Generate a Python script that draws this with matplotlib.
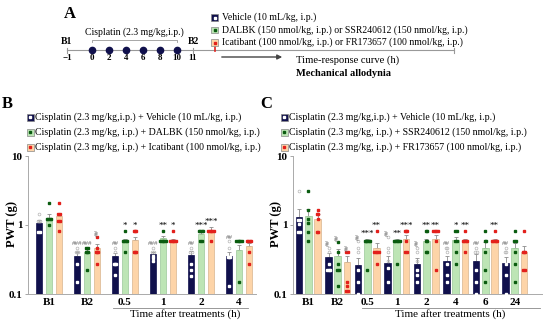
import numpy as np
import matplotlib
matplotlib.use('Agg')
import matplotlib.pyplot as plt
from matplotlib.patches import Rectangle, FancyArrowPatch

plt.rcParams['font.family'] = ['Liberation Serif', 'DejaVu Serif']

# ---------------- data ----------------
B_labels = ['B1', 'B2', '0.5', '1', '2', '4']
B_vehicle = [1.07, 0.36, 0.35, 0.38, 0.37, 0.35]
B_dalbk = [1.27, 0.40, 0.575, 0.64, 0.73, 0.44]
B_icatibant = [1.33, 0.47, 0.60, 0.58, 0.82, 0.49]
B_vehicle_sem = [0.10, 0.04, 0.04, 0.03, 0.05, 0.06]
B_dalbk_sem = [0.17, 0.05, 0.05, 0.05, 0.05, 0.07]
B_icatibant_sem = [0.17, 0.06, 0.08, 0.04, 0.10, 0.05]
B_vehicle_pts = [[1.42, 1.16, 1.16, 1.16, 0.78, 0.78], [0.47, 0.40, 0.40, 0.40, 0.27, 0.15],
                 [0.47, 0.40, 0.27, 0.27, 0.27, 0.19], [0.47, 0.40, 0.40, 0.35, 0.33, 0.30],
                 [0.47, 0.40, 0.40, 0.27, 0.22, 0.18], [0.58, 0.47, 0.34, 0.34, 0.34, 0.13]]
B_dalbk_pts = [[2.08, 1.22, 1.22, 1.22, 1.22, 1.0], [0.47, 0.47, 0.40, 0.40, 0.40, 0.22],
               [0.81, 0.58, 0.58, 0.58, 0.58, 0.40], [0.81, 0.58, 0.58, 0.58, 0.58, 0.58],
               [0.81, 0.81, 0.81, 0.81, 0.58, 0.58], [0.58, 0.58, 0.58, 0.58, 0.58, 0.15]]
B_icatibant_pts = [[2.08, 1.42, 1.42, 1.16, 1.16, 0.81], [0.67, 0.47, 0.40, 0.40, 0.40, 0.27],
                   [0.81, 0.81, 0.81, 0.40, 0.40, 0.40], [0.81, 0.58, 0.58, 0.58, 0.58, 0.58],
                   [0.81, 0.81, 0.81, 0.81, 0.81, 0.58], [0.58, 0.58, 0.58, 0.58, 0.40, 0.27]]
B_vehicle_sig = ['', '###', '##', '###', '##', '##']
B_dalbk_sig = ['', '###', '*', '**', '***', '']
B_icatibant_sig = ['', '##v', '*', '*', '***', '']

C_labels = ['B1', 'B2', '0.5', '1', '2', '4', '6', '24']
C_vehicle = [1.30, 0.34, 0.26, 0.28, 0.27, 0.30, 0.30, 0.28]
C_ssr = [1.35, 0.36, 0.58, 0.58, 0.58, 0.60, 0.46, 0.46]
C_fr = [1.22, 0.29, 0.47, 0.62, 0.62, 0.58, 0.58, 0.40]
C_vehicle_sem = [0.38, 0.05, 0.07, 0.08, 0.06, 0.05, 0.08, 0.06]
C_ssr_sem = [0.35, 0.09, 0.05, 0.05, 0.05, 0.08, 0.10, 0.09]
C_fr_sem = [0.20, 0.07, 0.07, 0.10, 0.10, 0.05, 0.05, 0.10]
C_vehicle_pts = [[3.08, 1.20, 1.20, 1.05, 0.80, 0.80], [0.47, 0.40, 0.27, 0.22, 0.22, 0.22],
                 [0.58, 0.47, 0.40, 0.22, 0.15, 0.10], [0.67, 0.47, 0.40, 0.30, 0.24, 0.15],
                 [0.47, 0.40, 0.30, 0.22, 0.19, 0.15], [0.47, 0.47, 0.40, 0.27, 0.19, 0.15],
                 [0.47, 0.40, 0.40, 0.22, 0.15, 0.10], [0.47, 0.40, 0.40, 0.27, 0.19, 0.10]]
C_ssr_pts = [[3.08, 1.66, 1.22, 1.06, 0.78, 0.58], [0.56, 0.40, 0.27, 0.22, 0.22, 0.13],
             [0.58, 0.58, 0.58, 0.58, 0.58, 0.22], [0.58, 0.58, 0.58, 0.58, 0.58, 0.27],
             [0.81, 0.81, 0.58, 0.58, 0.40, 0.40], [0.81, 0.81, 0.58, 0.58, 0.40, 0.27],
             [0.81, 0.58, 0.58, 0.40, 0.22, 0.15], [0.81, 0.58, 0.58, 0.40, 0.27, 0.15]]
C_fr_pts = [[1.66, 1.42, 1.42, 1.22, 0.78, 0.78], [0.40, 0.40, 0.15, 0.13, 0.11, 0.11],
            [0.81, 0.40, 0.40, 0.40, 0.40, 0.27], [0.81, 0.81, 0.81, 0.58, 0.40, 0.40],
            [0.81, 0.81, 0.81, 0.81, 0.58, 0.22], [0.81, 0.58, 0.58, 0.58, 0.58, 0.40],
            [0.81, 0.58, 0.58, 0.58, 0.58, 0.58], [0.81, 0.40, 0.40, 0.40, 0.22, 0.22]]
C_vehicle_sig = ['', '##v', '##v', '##v', '##v', '##', '##', '##']
C_ssr_sig = ['', '##v', '***', '**', '**', '*', '', '']
C_fr_sig = ['', '##v', '**', '***', '**', '**', '**', '']

B_legend = ['Cisplatin (2.3 mg/kg,i.p.) + Vehicle (10 mL/kg, i.p.)',
            'Cisplatin (2.3 mg/kg, i.p.) + DALBK (150 nmol/kg, i.p.)',
            'Cisplatin (2.3 mg/kg, i.p.) + Icatibant (100 nmol/kg, i.p.)']
C_legend = ['Cisplatin (2.3 mg/kg,i.p.) + Vehicle (10 mL/kg, i.p.)',
            'Cisplatin (2.3 mg/kg, i.p.) + SSR240612 (150 nmol/kg, i.p.)',
            'Cisplatin (2.3 mg/kg, i.p.) + FR173657 (100 nmol/kg, i.p.)']
A_legend = ['Vehicle (10 mL/kg, i.p.)',
            'DALBK (150 nmol/kg, i.p.) or SSR240612 (150 nmol/kg, i.p.)',
            'Icatibant (100 nmol/kg, i.p.) or FR173657 (100 nmol/kg, i.p.)']
A_days = [-1, 0, 2, 4, 6, 8, 10, 11]
A_cisplatin_days = [0, 2, 4, 6, 8, 10]

# ---------------- style ----------------
FILL = ['#10104c', '#bde5b5', '#fdd4a8']
EDGE = ['#10104c', '#9cc89a', '#d9b48f']
DOT = ['white', '#0a5c10', '#e3201b']
W, H = 550, 323
fig = plt.figure(figsize=(5.5, 3.23), dpi=100)
ov = fig.add_axes([0, 0, 1, 1], zorder=10)
ov.set_xlim(0, W); ov.set_ylim(H, 0); ov.axis('off'); ov.patch.set_alpha(0)


def panel(left_px, right_px, spacing_px, first_px, labels, means, sems, pts, sigs):
    ax = fig.add_axes([left_px / W, 1 - 294 / H, (right_px - left_px) / W, 138 / H])
    n = len(labels)
    width = 6.7 / spacing_px
    offset = 10.0 / spacing_px if spacing_px > 33 else 9.2 / spacing_px
    dxu = 1.4 / spacing_px
    for i in range(3):
        x = np.arange(n) + (i - 1) * offset
        m = np.array(means[i]); s = np.array(sems[i])
        ax.bar(x, m, width, color=FILL[i], edgecolor=EDGE[i], linewidth=0.5, zorder=2)
        ax.errorbar(x, m, yerr=[np.zeros(n), s], fmt='none', ecolor='#8c8c8c',
                    elinewidth=0.6, capsize=1.4, capthick=0.6, zorder=1)
        for j in range(n):
            vals = pts[i][j]
            uniq = sorted(set(vals))
            for u in uniq:
                k = vals.count(u)
                xs = x[j] + (np.arange(k) - (k - 1) / 2) * dxu
                if i == 0:
                    if u <= m[j]:
                        ax.plot(xs, [u] * k, 's', ms=1.5, mfc='white', mec='white', zorder=4)
                    else:
                        ax.plot(xs, [u] * k, 'o', ms=2.0, mfc='none', mec='#b4b4b4', mew=0.5, zorder=4)
                else:
                    ax.plot(xs, [u] * k, 's', ms=1.8, mfc=DOT[i], mec=DOT[i], zorder=4)
            sg = sigs[i][j]
            if sg:
                top = max(m[j] + s[j], max(vals))
                vert = sg.endswith('v')
                txt = sg.rstrip('v')
                col = '#666666' if '#' in txt else 'black'
                ax.annotate(txt, (x[j], top), xytext=(0, 1.0), textcoords='offset points',
                            ha='center', va='bottom', fontsize=5 if '#' in txt else 6.5,
                            color=col, rotation=90 if vert else 0, zorder=5)
    ax.set_yscale('log')
    ax.set_ylim(0.1, 10)
    ax.set_xlim((left_px - first_px) / spacing_px, (right_px - first_px) / spacing_px)
    ax.set_yticks([0.1, 1, 10]); ax.set_yticklabels(['0.1', '1', '10'])
    ax.minorticks_off()
    ax.set_xticks(np.arange(n)); ax.set_xticklabels(labels)
    for t in ax.get_xticklabels() + ax.get_yticklabels():
        t.set_fontweight('bold'); t.set_fontsize(8)
    ax.tick_params(axis='x', length=0, pad=3)
    ax.tick_params(axis='y', length=2.5, width=0.6, color='#999999', pad=1.5)
    for sp in ['top', 'right']:
        ax.spines[sp].set_visible(False)
    for sp in ['left', 'bottom']:
        ax.spines[sp].set_color('#aaaaaa'); ax.spines[sp].set_linewidth(0.7)
    ax.patch.set_alpha(0)
    return ax


axB = panel(28, 256, 38.0, 49.0, B_labels, [B_vehicle, B_dalbk, B_icatibant],
            [B_vehicle_sem, B_dalbk_sem, B_icatibant_sem],
            [B_vehicle_pts, B_dalbk_pts, B_icatibant_pts],
            [B_vehicle_sig, B_dalbk_sig, B_icatibant_sig])
axC = panel(293, 542, 29.5, 308.3, C_labels, [C_vehicle, C_ssr, C_fr],
            [C_vehicle_sem, C_ssr_sem, C_fr_sem],
            [C_vehicle_pts, C_ssr_pts, C_fr_pts],
            [C_vehicle_sig, C_ssr_sig, C_fr_sig])

# y labels
ov.text(12, 224, 'PWT (g)', rotation=90, ha='center', va='center', fontsize=9, fontweight='bold')
ov.text(276, 224, 'PWT (g)', rotation=90, ha='center', va='center', fontsize=9, fontweight='bold')

# time-after-treatment underline
for x0, x1, xc in [(113, 248, 185), (362, 540, 450)]:
    ov.plot([x0, x1], [308, 308], color='#888888', lw=0.6)
    ov.text(xc, 314, 'Time after treatments (h)', ha='center', va='center', fontsize=8)


def legend_square(x, y, i, size=7):
    ov.add_patch(Rectangle((x - size / 2, y - size / 2), size, size, facecolor=FILL[i],
                           edgecolor='#888888', linewidth=0.5, zorder=11))
    ov.plot([x], [y], 's', ms=1.5, color=DOT[i] if i else 'white', zorder=12)


for rows, x0 in [(B_legend, 30), (C_legend, 284)]:
    for i, t in enumerate(rows):
        y = 117 + 15 * i
        legend_square(x0, y, i)
        ov.text(x0 + 5, y, t, ha='left', va='center', fontsize=7.1)

# panel letters
ov.text(70, 14, 'A', fontsize=12, fontweight='bold', ha='center', va='center')
ov.text(7, 104, 'B', fontsize=12, fontweight='bold', ha='center', va='center')
ov.text(266, 104, 'C', fontsize=12, fontweight='bold', ha='center', va='center')


# panel A timeline (schematic layout: -1 and 11 are drawn with gaps)
def dpos(d):
    if d < 0:
        return 67
    if d > 10:
        return 193
    return 92 + 8.5 * d


ly = 50
ov.plot([dpos(-1), 454], [ly, ly], color='#999999', lw=0.8)
for d in [-1, 11]:
    ov.plot([dpos(d)] * 2, [ly - 2.5, ly + 2.5], color='#999999', lw=0.8)
ov.plot([454, 454], [ly - 2.5, ly + 2.5], color='#999999', lw=0.8)
ov.plot([215, 215], [ly - 3, ly + 1], color='#e3201b', lw=1.2)
for d in A_days:
    ov.text(dpos(d), 58, str(d).replace('-', '\u2212'), ha='center', va='center', fontsize=6.5, fontweight='bold')
ov.plot([dpos(d) for d in A_cisplatin_days], [ly] * len(A_cisplatin_days), 'o', ms=4.5, color='#10104c')
ov.text(dpos(-1), 41, 'B1', ha='center', va='center', fontsize=7, fontweight='bold')
ov.text(dpos(11), 41, 'B2', ha='center', va='center', fontsize=7, fontweight='bold')
ov.plot([dpos(0), dpos(0), dpos(10), dpos(10)], [42, 39.5, 39.5, 42], color='#999999', lw=0.6)
ov.text((dpos(0) + dpos(10)) / 2, 32, 'Cisplatin (2.3 mg/kg,i.p.)', ha='center', va='center', fontsize=7)
ov.add_patch(FancyArrowPatch((219, 57), (285, 57), arrowstyle='-|>', mutation_scale=7,
                             color='#444444', lw=1.0))
ov.text(296, 60, 'Time-response curve (h)', ha='left', va='center', fontsize=7.6)
ov.text(296, 74, 'Mechanical allodynia', ha='left', va='center', fontsize=7.5, fontweight='bold')
for i, t in enumerate(A_legend):
    y = 17.5 + 12.5 * i
    legend_square(214.5, y, i, size=6.5)
    ov.text(222, y, t, ha='left', va='center', fontsize=7)

fig.savefig('out.png', dpi=100)
